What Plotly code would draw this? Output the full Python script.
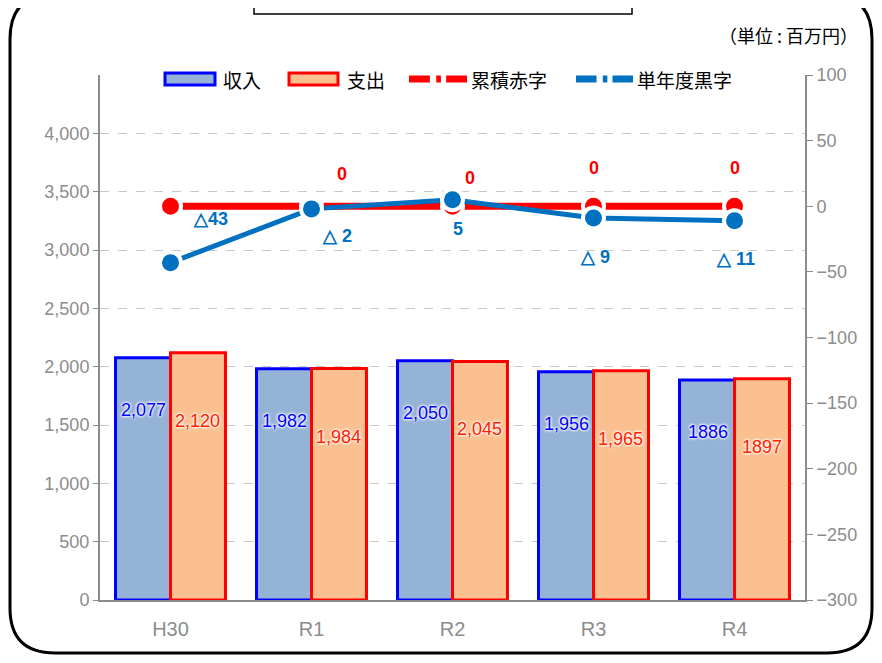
import plotly.graph_objects as go

categories = ["H30", "R1", "R2", "R3", "R4"]
income = [2077, 1982, 2050, 1956, 1886]
expense = [2120, 1984, 2045, 1965, 1897]
income_labels = ["2,077", "1,982", "2,050", "1,956", "1886"]
expense_labels = ["2,120", "1,984", "2,045", "1,965", "1897"]
cum_deficit = [0, 0, 0, 0, 0]
cum_labels = ["", "0", "0", "0", "0"]
annual = [-43, -2, 5, -9, -11]
annual_labels = ["△43", "△ 2", "5", "△ 9", "△ 11"]

# window geometry; page body adds an 8px offset
OFF = 8
L, R, T, B = 100, 805, 75, 600        # plot area in window pixels
W, H = 882 - 2 * OFF, 663 - 2 * OFF   # figure size (avoid scrollbars)
def px(x):
    return (x - L) / (R - L)
def py(y):
    return (B - y) / (B - T)

JP = "Noto Sans CJK JP, sans-serif"
NUM = "Liberation Sans Narrow, Arial Narrow, Liberation Sans, sans-serif"
GRAY = "#8C8C8C"
BLUE_BAR, BLUE_EDGE = "#95B3D7", "#0000FF"
RED_BAR, RED_EDGE = "#FAC090", "#FF0000"
LINE_RED, LINE_BLUE = "#FF0000", "#0070C0"

fig = go.Figure()
fig.add_trace(go.Bar(
    x=categories, y=income, name="収入",
    marker=dict(color=BLUE_BAR, line=dict(color=BLUE_EDGE, width=3)), yaxis="y"))
fig.add_trace(go.Bar(
    x=categories, y=expense, name="支出",
    marker=dict(color=RED_BAR, line=dict(color=RED_EDGE, width=3)), yaxis="y"))
fig.add_trace(go.Scatter(
    x=categories, y=cum_deficit, name="累積赤字", yaxis="y2", mode="lines+markers",
    line=dict(color=LINE_RED, width=7),
    marker=dict(size=21, color=LINE_RED, line=dict(color="white", width=4))))
fig.add_trace(go.Scatter(
    x=categories, y=annual, name="単年度黒字", yaxis="y2", mode="lines+markers",
    line=dict(color=LINE_BLUE, width=5),
    marker=dict(size=21, color=LINE_BLUE, line=dict(color="white", width=4))))

annotations = []
glow = "0 0 3px white, 0 0 3px white, 0 0 3px white"
for i, c in enumerate(categories):
    annotations.append(dict(
        x=c, y=income[i], xref="x", yref="y", text=income_labels[i], showarrow=False,
        xshift=-27, yshift=-52,
        font=dict(family=NUM, size=18, color="#0000FF", shadow=glow)))
    annotations.append(dict(
        x=c, y=expense[i], xref="x", yref="y", text=expense_labels[i], showarrow=False,
        xshift=27, yshift=-68,
        font=dict(family=NUM, size=18, color="#FF2200", shadow=glow)))

ann_shift = [(40, 44), (25, -27), (5, -29), (1, -39), (1, -38)]
for i, c in enumerate(categories):
    annotations.append(dict(
        x=c, y=annual[i], xref="x", yref="y2", text="<b>" + annual_labels[i] + "</b>",
        showarrow=False, xshift=ann_shift[i][0], yshift=ann_shift[i][1],
        font=dict(family=NUM, size=18, color=LINE_BLUE)))
cum_shift = [(0, 0), (30, 32), (17, 28), (0, 38), (0, 38)]
for i, c in enumerate(categories):
    if cum_labels[i]:
        annotations.append(dict(
            x=c, y=cum_deficit[i], xref="x", yref="y2", text="<b>" + cum_labels[i] + "</b>",
            showarrow=False, xshift=cum_shift[i][0], yshift=cum_shift[i][1],
            font=dict(family=NUM, size=18, color=LINE_RED)))

annotations.append(dict(
    x=px(860), y=py(35), xref="paper", yref="paper", text="（単位 : 百万円）",
    showarrow=False, xanchor="right", yanchor="middle",
    font=dict(family=JP, size=18, color="#000000")))

# ---- manual legend ----
LY = 79
legend_text = [("収入", 221), ("支出", 345), ("累積赤字", 469), ("単年度黒字", 635)]
for txt, x0 in legend_text:
    annotations.append(dict(
        x=px(x0), y=py(LY), xref="paper", yref="paper", text=txt, showarrow=False,
        xanchor="left", yanchor="middle", font=dict(family=JP, size=19, color="#000000")))

shapes = []
shapes.append(dict(type="rect", xref="paper", yref="paper", x0=px(165), x1=px(215),
                   y0=py(85), y1=py(73), fillcolor=BLUE_BAR, line=dict(color=BLUE_EDGE, width=3)))
shapes.append(dict(type="rect", xref="paper", yref="paper", x0=px(289), x1=px(338),
                   y0=py(85), y1=py(73), fillcolor=RED_BAR, line=dict(color=RED_EDGE, width=3)))
for (xa, xb, col) in [(409, 467, LINE_RED), (576, 633, LINE_BLUE)]:
    seg = (xb - xa)
    for s0, s1 in [(0.0, 0.36), (0.47, 0.55), (0.64, 1.0)]:
        shapes.append(dict(type="line", xref="paper", yref="paper",
                           x0=px(xa + seg * s0), x1=px(xa + seg * s1), y0=py(LY), y1=py(LY),
                           line=dict(color=col, width=7)))

# rounded frame
fl, fr, ft, fb, r = 10, 872, -6, 653, 45
path = (f"M {px(fl)},{py(ft + r)} L {px(fl)},{py(fb - r)} "
        f"Q {px(fl)},{py(fb)} {px(fl + r)},{py(fb)} "
        f"L {px(fr - r)},{py(fb)} Q {px(fr)},{py(fb)} {px(fr)},{py(fb - r)} "
        f"L {px(fr)},{py(ft + r)} Q {px(fr)},{py(ft)} {px(fr - r)},{py(ft)} "
        f"L {px(fl + r)},{py(ft)} Q {px(fl)},{py(ft)} {px(fl)},{py(ft + r)} Z")
shapes.append(dict(type="path", path=path, xref="paper", yref="paper",
                   line=dict(color="black", width=3), layer="below"))
shapes.append(dict(type="rect", xref="paper", yref="paper",
                   x0=px(254), x1=px(632), y0=py(14), y1=py(-10),
                   line=dict(color="black", width=1.5), fillcolor="white"))

fig.update_layout(
    width=W, height=H,
    margin=dict(l=L - OFF, r=W - (R - OFF), t=T - OFF, b=H - (B - OFF), autoexpand=False),
    paper_bgcolor="white", plot_bgcolor="white",
    barmode="group", bargap=0.22, bargroupgap=0,
    showlegend=False,
    xaxis=dict(showline=True, linecolor=GRAY, linewidth=2, ticklabelstandoff=10,
               tickfont=dict(family=NUM, size=20, color=GRAY), ticks=""),
    yaxis=dict(range=[0, 4500], tickvals=[0, 500, 1000, 1500, 2000, 2500, 3000, 3500, 4000],
               tickformat=",", showgrid=True, gridcolor="#C8C8C8", griddash="dash", gridwidth=1,
               showline=True, linecolor=GRAY, linewidth=2, ticks="outside", ticklen=5,
               tickcolor=GRAY, zeroline=False,
               tickfont=dict(family=NUM, size=18, color=GRAY)),
    yaxis2=dict(range=[-300, 100], dtick=50, overlaying="y", side="right",
                showgrid=False, zeroline=False, showline=True, linecolor=GRAY, linewidth=2,
                ticks="outside", ticklen=6, tickcolor=GRAY,
                tickfont=dict(family=NUM, size=18, color=GRAY)),
    annotations=annotations, shapes=shapes,
)

fig.write_html("out.html")
